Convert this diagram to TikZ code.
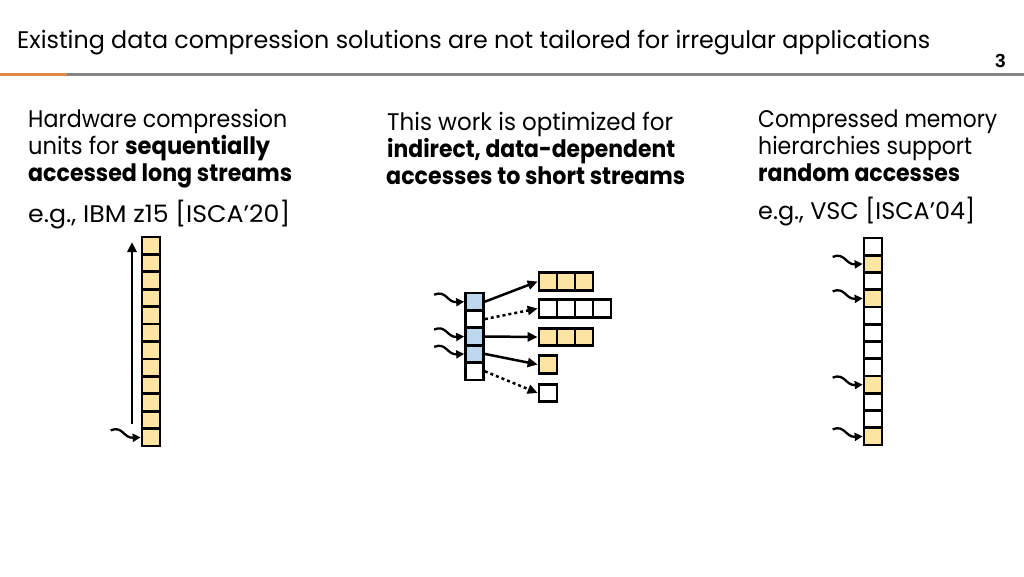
\documentclass[tikz,border=0pt]{standalone}
\usepackage{graphicx}
\usepackage{fontspec}
\setmainfont{Poppins}
\newfontfamily\numfont{Liberation Sans}
\usetikzlibrary{arrows.meta,calc}
\definecolor{cellY}{HTML}{FDE5A1}
\definecolor{cellB}{HTML}{BDD7EE}
\definecolor{barO}{HTML}{E0874A}
\definecolor{barG}{HTML}{858585}
\newcommand\fitw[2]{\resizebox{#1pt}{\height}{#2}}
\begin{document}
\begin{tikzpicture}[x=1pt,y=-1pt,
  txt/.style={anchor=base west, inner sep=0pt, font=\fontsize{24}{28}\selectfont},
  cell/.style={draw=black, line width=2.7pt, minimum width=18pt, minimum height=17.4pt, inner sep=0pt},
  ycell/.style={cell, fill=cellY},
  bcell/.style={cell, fill=cellB},
  wcell/.style={cell, fill=white},
  arr/.style={line width=2.5pt, -{Triangle[length=10pt,width=9pt]}},
  darr/.style={arr, dash pattern=on 3pt off 3pt},
  sq/.style={line width=2.3pt, -{Triangle[length=8pt,width=8pt]}}
]
\useasboundingbox (0,0) rectangle (1024,576);
\fill[white] (0,0) rectangle (1024,576);

% title and bar
\node[txt] (title) at (17,48) {\fitw{913}{Existing data compression solutions are not tailored for irregular applications}};
\node[anchor=base west, inner sep=0pt, font=\numfont\bfseries\fontsize{19}{22}\selectfont] (pnum) at (995,67) {3};
\fill[barO] (0,72.5) rectangle (67,75.5);
\fill[barG] (67,72.5) rectangle (1024,75.5);

% left text
\node[txt] (l1) at (28,127) {\fitw{259}{Hardware compression}};
\node[txt] (l2) at (28,154) {\fitw{242}{units for \textbf{sequentially}}};
\node[txt] (l3) at (28,181) {\fitw{264}{\textbf{accessed long streams}}};
\node[txt] (l4) at (28,222) {\fitw{262}{e.g., IBM z15 [ISCA’20]}};

% middle text
\node[txt] (m1) at (387,130) {\fitw{286}{This work is optimized for}};
\node[txt] (m2) at (387,157) {\fitw{288}{\textbf{indirect, data-dependent}}};
\node[txt] (m3) at (386,184) {\fitw{299}{\textbf{accesses to short streams}}};

% right text
\node[txt] (r1) at (758,127) {\fitw{239}{Compressed memory}};
\node[txt] (r2) at (758,154) {\fitw{214}{hierarchies support}};
\node[txt] (r3) at (758,181) {\fitw{202}{\textbf{random accesses}}};
\node[txt] (r4) at (758,219) {\fitw{217}{e.g., VSC [ISCA’04]}};

% left column
\foreach \i in {1,...,12}
  \node[ycell] (L\i) at (151,{237+17.42*(\i-0.5)}) {};
\coordinate (upS) at (132,424);
\coordinate (upE) at (132,242);
\draw[arr] (upS) -- (upE);

% middle column
\node[bcell] (M1) at (474.5,{293+17.4*0.5}) {};
\node[wcell] (M2) at (474.5,{293+17.4*1.5}) {};
\node[bcell] (M3) at (474.5,{293+17.4*2.5}) {};
\node[bcell] (M4) at (474.5,{293+17.4*3.5}) {};
\node[wcell] (M5) at (474.5,{293+17.4*4.5}) {};

\foreach \j in {1,2,3}
  \node[ycell] (A\j) at ({539+18*(\j-0.5)},281.5) {};
\foreach \j in {1,2,3,4}
  \node[wcell] (B\j) at ({539+18*(\j-0.5)},308.5) {};
\foreach \j in {1,2,3}
  \node[ycell] (C\j) at ({539+18*(\j-0.5)},337) {};
\node[ycell] (D1) at (548,364.5) {};
\node[wcell] (E1) at (548,393) {};

\draw[arr] (M1.east) -- (A1.west);
\draw[darr] (M2.east) -- (B1.west);
\draw[arr] (M3.east) -- (C1.west);
\draw[arr] (M4.east) -- (D1.west);
\draw[darr] (M5.east) -- (E1.west);

% right column
\foreach \i/\c in {1/wcell,2/ycell,3/wcell,4/ycell,5/wcell,6/wcell,7/wcell,8/wcell,9/ycell,10/wcell,11/wcell,12/ycell}
  \node[\c] (R\i) at (873,{238+17.25*(\i-0.5)}) {};

% squiggly access arrows
\foreach \n in {L12,M1,M3,M4,R2,R4,R9,R12}{
  \coordinate (s\n) at ($(\n.west)+(-30,-7)$);
  \draw[sq] (s\n) .. controls +(12,-5) and +(-17,1) .. (\n.west);
}
\end{tikzpicture}
\end{document}
